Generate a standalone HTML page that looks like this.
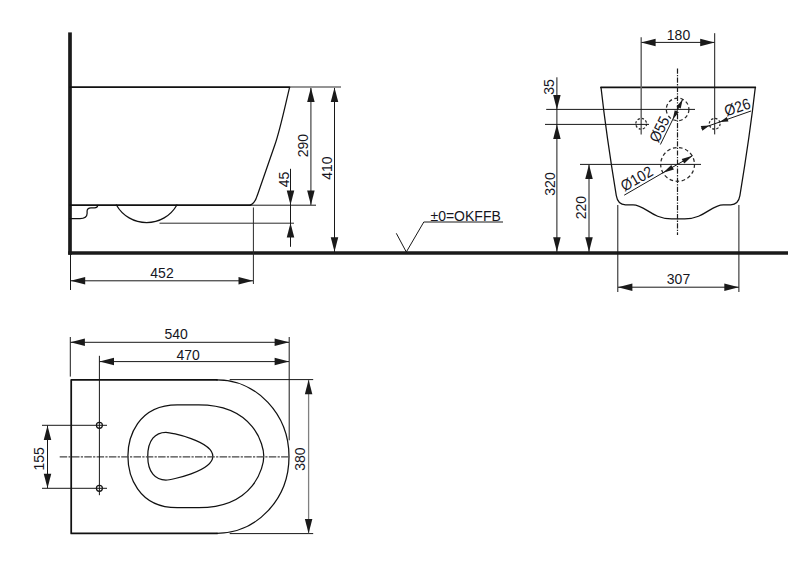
<!DOCTYPE html>
<html lang="en">
<head>
<meta charset="utf-8">
<title>Wall hung WC – dimensions</title>
<style>
  html, body { margin: 0; padding: 0; background: #ffffff; }
  body { width: 800px; height: 572px; overflow: hidden; }
  svg { display: block; }
  text { font-family: "Liberation Sans", Arial, sans-serif; font-size: 14px; fill: #16161e; }
  .o  { fill: none; stroke: #111; stroke-width: 1.75; stroke-linecap: round; stroke-linejoin: round; }
  .o2 { fill: none; stroke: #111; stroke-width: 1.25; stroke-linecap: round; stroke-linejoin: round; }
  .w  { fill: none; stroke: #1a1a1a; stroke-width: 3.2; }
  .d  { fill: none; stroke: #181818; stroke-width: 1; }
  .g  { fill: none; stroke: #2a2a2a; stroke-width: 1; }
  .c  { fill: none; stroke: #1c1c1c; stroke-width: 1.3; stroke-dasharray: 6.5 2 1.5 2; }
  .h  { fill: none; stroke: #2a2a2a; stroke-width: 1.25; stroke-dasharray: 3.6 2.6; }
  .a  { fill: #1a1a1a; stroke: none; }
</style>
</head>
<body>
<svg width="800" height="572" viewBox="0 0 800 572">
  <rect x="0" y="0" width="800" height="572" fill="#ffffff"/>
  <defs>
    <!-- arrow head, tip at origin pointing to +x -->
    <path id="ah" d="M0,0 L-14.5,-3.75 L-14.5,3.75 Z"/>
    <path id="as" d="M0,0 L-11,-2.6 L-11,2.6 Z"/>
    <path id="am" d="M0,0 L-9.2,-2.3 L-9.2,2.3 Z"/>
    <path id="at" d="M0,0 L-8.4,-2.4 L-8.4,2.4 Z"/>
  </defs>

  <!-- ================= SIDE VIEW ================= -->
  <g id="side">
    <!-- wall + floor -->
    <path class="w" d="M70,32.4 V254.7" style="stroke-width:3.7"/>
    <path class="w" d="M68.2,253.05 H788" style="stroke-width:3.4"/>
    <!-- bowl outline -->
    <path class="o" d="M70,87.2 H289.4"/>
    <path class="o2" d="M289.6,87.3 C285.5,104 280.1,130 274.8,145 L257.8,194 Q254.8,203.8 250.3,205"/>
    <path class="o" d="M70,205 H250.5"/>
    <!-- trap arc -->
    <path class="o2" d="M116.4,205 A34.75,34.75 0 0 0 176.9,205"/>
    <!-- step detail near wall -->
    <path class="o2" d="M70,218.6 H80 Q87,218.6 87.1,213.5 V211 Q87.2,207.8 91,207.8 H94.5 Q97.4,207.6 97.8,205.3"/>

    <!-- extension lines -->
    <path class="g" d="M290,87 H341"/>
    <path class="d" d="M250,205.2 H316"/>
    <path class="g" d="M159.5,223.2 H294"/>
    <path class="g" d="M253.4,207.5 V284"/>
    <path class="d" d="M70.5,254 V290"/>

    <!-- dim 452 -->
    <path class="d" d="M71,280.8 H253"/>
    <use href="#ah" class="a" transform="translate(70.7,280.8) rotate(180)"/>
    <use href="#ah" class="a" transform="translate(253,280.8)"/>
    <text transform="translate(162,277.6) scale(1,1.1)" text-anchor="middle">452</text>

    <!-- dim 290 -->
    <path class="d" d="M310.9,88 V205" style="stroke:#444;stroke-width:1.2"/>
    <use href="#ah" class="a" transform="translate(310.9,87.4) rotate(-90)"/>
    <use href="#ah" class="a" transform="translate(310.9,205) rotate(90)"/>
    <text transform="translate(307.7,145.7) rotate(-90) scale(1,1.1)" text-anchor="middle">290</text>

    <!-- dim 410 -->
    <path class="d" d="M334.5,88 V252"/>
    <use href="#ah" class="a" transform="translate(334.5,87.4) rotate(-90)"/>
    <use href="#ah" class="a" transform="translate(334.5,251.8) rotate(90)"/>
    <text transform="translate(331.7,168.1) rotate(-90) scale(1,1.1)" text-anchor="middle">410</text>

    <!-- dim 45 -->
    <path class="d" d="M290.5,168.8 V246.8"/>
    <use href="#ah" class="a" transform="translate(290.5,205) rotate(90)"/>
    <use href="#ah" class="a" transform="translate(290.5,223) rotate(-90)"/>
    <text transform="translate(289.2,179.4) rotate(-90) scale(1,1.1)" text-anchor="middle">45</text>

    <!-- level symbol -->
    <path class="d" d="M396.3,233.3 L406.3,252 L423.8,222 H503"/>
    <text transform="translate(430.5,221.3) scale(1,1.1)">±0=OKFFB</text>
  </g>

  <!-- ================= REAR VIEW ================= -->
  <g id="rear">
    <path class="o" d="M601,87.4 H755.3"/>
    <path class="o2" d="M601,87.4 Q606.3,135 616.3,195.6 Q617.8,204.6 625.5,204.9 H633 C645,204.9 652,218.9 671.5,218.9 H684.7 C704.2,218.9 711.2,204.9 723.2,204.9 H730.7 Q738.4,204.6 739.9,195.6 Q749.9,135 755.3,87.4"/>

    <!-- centre line -->
    <path class="c" d="M677.5,68.5 V235" style="stroke-dasharray:5.2 1.3 1.3 1.3;stroke-width:1.2"/>

    <!-- holes -->
    <circle class="h" cx="677.6" cy="109.4" r="11.3"/>
    <circle class="h" cx="641.2" cy="123.8" r="5.4" style="stroke-dasharray:2.4 1.8"/>
    <circle class="h" cx="714.7" cy="123.8" r="5.4" style="stroke-dasharray:2.4 1.8"/>
    <circle class="h" cx="677.6" cy="164.4" r="16.9"/>

    <!-- 180 dim -->
    <path class="d" d="M641.2,37.3 V134.4" style="stroke:#666;stroke-width:1.5"/>
    <path class="d" d="M714.7,33.2 V134.4"/>
    <path class="d" d="M641.5,42.4 H714.5"/>
    <use href="#ah" class="a" transform="translate(641.1,42.4) rotate(180)"/>
    <use href="#ah" class="a" transform="translate(714.7,42.4)"/>
    <text transform="translate(678.5,40.3) scale(1,1.1)" text-anchor="middle">180</text>

    <!-- horizontal reference lines -->
    <path class="d" d="M546.2,109.4 H695"/>
    <path class="d" d="M545,124.4 H649"/>
    <path class="d" d="M580,164.4 H701"/>

    <!-- 35 / 320 dim -->
    <path class="d" d="M556.9,77.3 V252"/>
    <use href="#ah" class="a" transform="translate(556.9,109.4) rotate(90)"/>
    <use href="#ah" class="a" transform="translate(556.9,124.4) rotate(-90)"/>
    <use href="#ah" class="a" transform="translate(556.9,251.8) rotate(90)"/>
    <text transform="translate(554,86.9) rotate(-90) scale(1,1.1)" text-anchor="middle">35</text>
    <text transform="translate(554.6,184) rotate(-90) scale(1,1.1)" text-anchor="middle">320</text>

    <!-- 220 dim -->
    <path class="d" d="M589,165 V252"/>
    <use href="#ah" class="a" transform="translate(589,164.6) rotate(-90)"/>
    <use href="#ah" class="a" transform="translate(589,251.8) rotate(90)"/>
    <text transform="translate(585.9,207.6) rotate(-90) scale(1,1.1)" text-anchor="middle">220</text>

    <!-- 307 dim -->
    <path class="d" d="M617.8,205 V292"/>
    <path class="d" d="M738.9,205 V292"/>
    <path class="d" d="M618,287.2 H738.8"/>
    <use href="#ah" class="a" transform="translate(617.9,287.2) rotate(180)"/>
    <use href="#ah" class="a" transform="translate(738.8,287.2)"/>
    <text transform="translate(678.5,284.2) scale(1,1.1)" text-anchor="middle">307</text>

    <!-- Ø55 -->
    <path class="d" d="M660.4,144.5 L682.7,99.3"/>
    <use href="#am" class="a" transform="translate(672.7,119.5) rotate(116.2)"/>
    <use href="#am" class="a" transform="translate(682.7,99.3) rotate(-63.8)"/>
    <text transform="translate(658.3,143.5) rotate(-63.8) scale(1,1.1)">Ø55</text>

    <!-- Ø26 -->
    <path class="d" d="M701.5,128.4 L751,111"/>
    <use href="#at" class="a" transform="translate(709.5,125.6) rotate(-19.3)"/>
    <use href="#at" class="a" transform="translate(719.7,122) rotate(160.7)"/>
    <text transform="translate(726.6,116.6) rotate(-19.3) scale(1,1.1)">Ø26</text>

    <!-- Ø102 -->
    <path class="d" d="M624.2,195.2 L692.5,155.7"/>
    <use href="#as" class="a" transform="translate(663.1,172.7) rotate(150)"/>
    <use href="#as" class="a" transform="translate(692.5,155.7) rotate(-30)"/>
    <text transform="translate(624.6,191.8) rotate(-30) scale(1,1.1)">Ø102</text>
  </g>

  <!-- ================= PLAN VIEW ================= -->
  <g id="plan">
    <path class="o" d="M217,379.9 H71.2 V533.4 H217"/>
    <path class="o2" d="M217,379.9 A72,76.75 0 0 1 217,533.4"/>
    <!-- seat opening -->
    <path class="o2" d="M177.2,404.75 H198.75 C254.5,404.75 263.8,445.7 263.8,456.2 C263.8,466.7 254.5,507.65 198.75,507.65 H177.2 C137.3,507.65 127.9,474.5 127.9,456.2 C127.9,437.9 137.3,404.75 177.2,404.75 Z"/>
    <!-- inner egg -->
    <path class="o2" d="M165.9,432.3 C170.5,432.3 212.8,441 212.8,456.2 C212.8,471.4 170.5,480.1 165.9,480.1 C155.4,480.1 147.75,472.4 147.75,456.2 C147.75,440 155.4,432.3 165.9,432.3 Z"/>
    <!-- centre line -->
    <path class="c" d="M59.7,456.8 H289.3" style="stroke-dasharray:7.5 1.3 2.2 1.3;stroke:#444"/>

    <!-- fixing holes -->
    <circle class="d" cx="99.4" cy="425.3" r="3" style="stroke:#111;stroke-width:1.2"/>
    <circle class="d" cx="99.4" cy="488.3" r="3" style="stroke:#111;stroke-width:1.2"/>
    <path class="d" d="M42,425.3 H107"/>
    <path class="d" d="M42,488.3 H107"/>

    <!-- 540 -->
    <path class="d" d="M70.3,337 V376.6"/>
    <path class="d" d="M289.2,337 V440.3"/>
    <path class="d" d="M70.5,342.3 H289"/>
    <use href="#ah" class="a" transform="translate(70.4,342.3) rotate(180)"/>
    <use href="#ah" class="a" transform="translate(289.1,342.3)"/>
    <text transform="translate(176.1,339.4) scale(1,1.1)" text-anchor="middle">540</text>

    <!-- 470 -->
    <path class="d" d="M99.4,355.8 V495.2"/>
    <path class="d" d="M99.6,361.6 H289"/>
    <use href="#ah" class="a" transform="translate(99.5,361.6) rotate(180)"/>
    <use href="#ah" class="a" transform="translate(289.1,361.6)"/>
    <text transform="translate(188.1,359.5) scale(1,1.1)" text-anchor="middle">470</text>

    <!-- 155 -->
    <path class="d" d="M47.5,425.5 V488.1"/>
    <use href="#ah" class="a" transform="translate(47.5,425.4) rotate(-90)"/>
    <use href="#ah" class="a" transform="translate(47.5,488.2) rotate(90)"/>
    <text transform="translate(44.1,458.9) rotate(-90) scale(1,1.1)" text-anchor="middle">155</text>

    <!-- 380 -->
    <path class="d" d="M229.7,379.6 H313.2"/>
    <path class="d" d="M229.7,533.6 H313.2"/>
    <path class="d" d="M308.6,380 V533.2" style="stroke:#808080;stroke-width:1.3"/>
    <use href="#ah" class="a" transform="translate(308.6,379.8) rotate(-90)"/>
    <use href="#ah" class="a" transform="translate(308.6,533.4) rotate(90)"/>
    <text transform="translate(304.9,459.1) rotate(-90) scale(1,1.1)" text-anchor="middle">380</text>
  </g>
</svg>
</body>
</html>
